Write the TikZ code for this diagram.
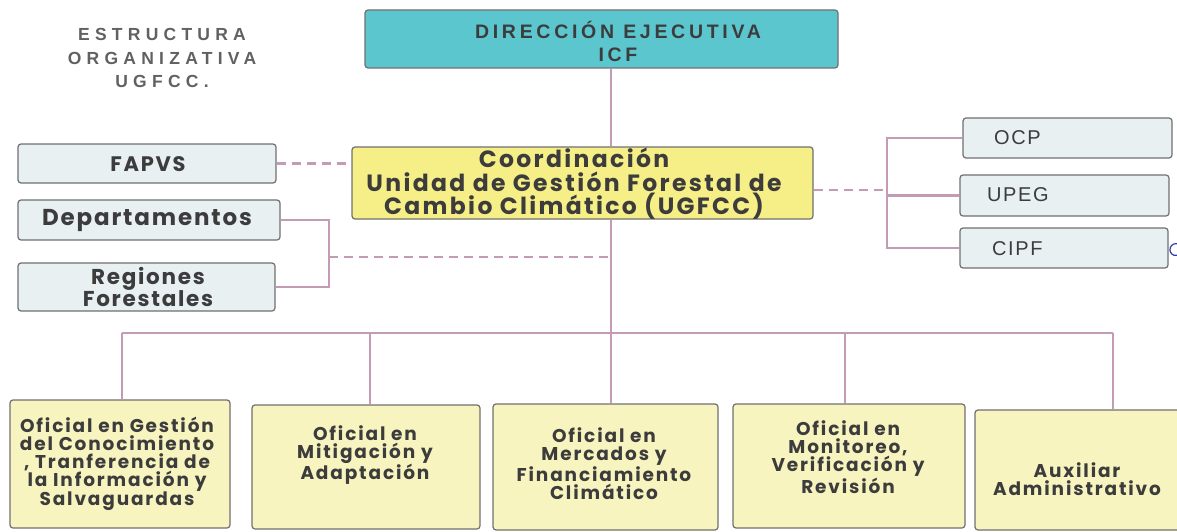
\documentclass[tikz,border=0pt]{standalone}
\usepackage{fontspec}
\setmainfont{Poppins}
\newfontfamily\popf[LetterSpace=10]{Poppins}
\newfontfamily\coordf[LetterSpace=10]{Poppins}
\newfontfamily\leftf[LetterSpace=8]{Poppins}
\newfontfamily\titlef[LetterSpace=30]{Liberation Sans}
\newfontfamily\dirf[LetterSpace=19]{Liberation Sans}
\newfontfamily\arialf[LetterSpace=8]{Liberation Sans}
\definecolor{lineC}{HTML}{C49BB5}
\definecolor{cyanF}{HTML}{5CC6CF}
\definecolor{yelF}{HTML}{F6EE86}
\definecolor{yelL}{HTML}{F8F4C0}
\definecolor{blueF}{HTML}{E8F0F2}
\definecolor{bordC}{HTML}{707070}
\definecolor{txtC}{HTML}{3C3C3C}
\definecolor{markC}{HTML}{2A3FA0}
\tikzset{
  box/.style={draw=bordC, line width=1.2pt, rounded corners=3pt, inner sep=0pt},
  txt/.style={inner sep=0pt, align=center, text=txtC},
  conn/.style={draw=lineC, line width=2.3pt},
  dconn/.style={draw=lineC, line width=2.3pt, dash pattern=on 9pt off 6pt},
}
\begin{document}
\begin{tikzpicture}[x=1pt,y=-1pt]
\useasboundingbox (0,0) rectangle (1177,532);
% title
\node[txt, text=black!62, font=\titlef\bfseries\fontsize{17.5}{23.5}\selectfont] (title) at (162,58) {ESTRUCTURA\\ORGANIZATIVA\\UGFCC.};
% direction
\node[box, fill=cyanF, minimum width=473pt, minimum height=58pt] (dir) at (601.5,39) {};
\node[txt, font=\dirf\bfseries\fontsize{19.5}{23}\selectfont] (dirT) at (618,41) {DIRECCIÓN EJECUTIVA\\ICF};
% coordination
\node[box, fill=yelF, minimum width=461pt, minimum height=72pt] (coord) at (582.5,183) {};
\node[txt, font=\coordf\bfseries\fontsize{23.5}{23.5}\selectfont] (coordT) at (574,184) {Coordinación\\Unidad de Gestión Forestal de\\Cambio Climático (UGFCC)};
% left boxes
\node[box, fill=blueF, minimum width=258pt, minimum height=39pt] (fapvs) at (147,163.5) {};
\node[txt, font=\leftf\bfseries\fontsize{21}{21}\selectfont] (fapvsT) at (148,164) {FAPVS};
\node[box, fill=blueF, minimum width=262pt, minimum height=40pt] (dept) at (149,220) {};
\node[txt, font=\leftf\bfseries\fontsize{23}{23}\selectfont] (deptT) at (147,220) {Departamentos};
\node[box, fill=blueF, minimum width=257pt, minimum height=48pt] (reg) at (146.5,287) {};
\node[txt, font=\leftf\bfseries\fontsize{21.5}{19.5}\selectfont] (regT) at (148,287) {Regiones\\Forestales};
% right boxes
\node[box, fill=blueF, minimum width=209pt, minimum height=40pt] (ocp) at (1067.5,138) {};
\node[txt, anchor=west, font=\arialf\fontsize{20}{20}\selectfont] (ocpT) at (994,138) {OCP};
\node[box, fill=blueF, minimum width=209pt, minimum height=41pt] (upeg) at (1064.5,195.5) {};
\node[txt, anchor=west, font=\arialf\fontsize{20}{20}\selectfont] (upegT) at (987,195) {UPEG};
\node[box, fill=blueF, minimum width=208pt, minimum height=40pt] (cipf) at (1064,248) {};
\node[txt, anchor=west, font=\arialf\fontsize{20}{20}\selectfont] (cipfT) at (992,249) {CIPF};
% bottom boxes
\node[box, fill=yelL, minimum width=220pt, minimum height=128pt] (b1) at (120,464) {};
\node[txt, font=\popf\bfseries\fontsize{18.5}{18}\selectfont] (b1T) at (117,464) {Oficial en Gestión\\del Conocimiento\\, Tranferencia de\\la Información y\\Salvaguardas};
\node[box, fill=yelL, minimum width=228pt, minimum height=124pt] (b2) at (366,467) {};
\node[txt, font=\popf\bfseries\fontsize{18.5}{18}\selectfont] (b2T) at (365,455) {Oficial en\\Mitigación y\\Adaptación};
\node[box, fill=yelL, minimum width=225pt, minimum height=126pt] (b3) at (605.5,467) {};
\node[txt, font=\popf\bfseries\fontsize{18.5}{18}\selectfont] (b3T) at (604,464) {Oficial en\\Mercados y\\Financiamiento\\Climático};
\node[box, fill=yelL, minimum width=232pt, minimum height=124pt] (b4) at (849,466) {};
\node[txt, font=\popf\bfseries\fontsize{18.5}{18}\selectfont] (b4T) at (848,457) {Oficial en\\Monitoreo,\\Verificación y\\Revisión};
\node[box, fill=yelL, minimum width=215pt, minimum height=120pt] (b5) at (1082.5,470) {};
\node[txt, font=\popf\bfseries\fontsize{18.5}{18}\selectfont] (b5T) at (1077,479) {Auxiliar\\Administrativo};
% connectors
\coordinate (spine) at (611,333);
\draw[conn] (dir.south -| spine) -- (coord.north -| spine);
\draw[conn] (coord.south -| spine) -- (spine);
\coordinate (d1) at (122,333);
\coordinate (d2) at (370,333);
\coordinate (d4) at (845,333);
\coordinate (d5) at (1113,333);
\draw[conn] (d1) -- (d5);
\draw[conn] (d1) -- (d1 |- b1.north);
\draw[conn] (d2) -- (d2 |- b2.north);
\draw[conn] (spine) -- (spine |- b3.north);
\draw[conn] (d4) -- (d4 |- b4.north);
\draw[conn] (d5) -- (d5 |- b5.north);
% left side
\draw[dconn] (fapvs.east) -- (coord.west |- fapvs.east);
\coordinate (lb) at (329,257);
\draw[conn] (dept.east) -| (lb |- reg.east) -- (reg.east);
\draw[dconn] (lb) -- (lb -| spine);
% right side
\coordinate (bk) at (887,190);
\draw[dconn] (coord.east |- bk) -- (bk);
\draw[conn] (ocp.west) -| (bk |- cipf.west) -- (cipf.west);
\draw[conn] (bk |- upeg.west) -- (upeg.west);
% blue mark
\draw[markC, line width=1.2pt] (1178,244) arc[start angle=70, end angle=290, radius=6pt];
\end{tikzpicture}
\end{document}
